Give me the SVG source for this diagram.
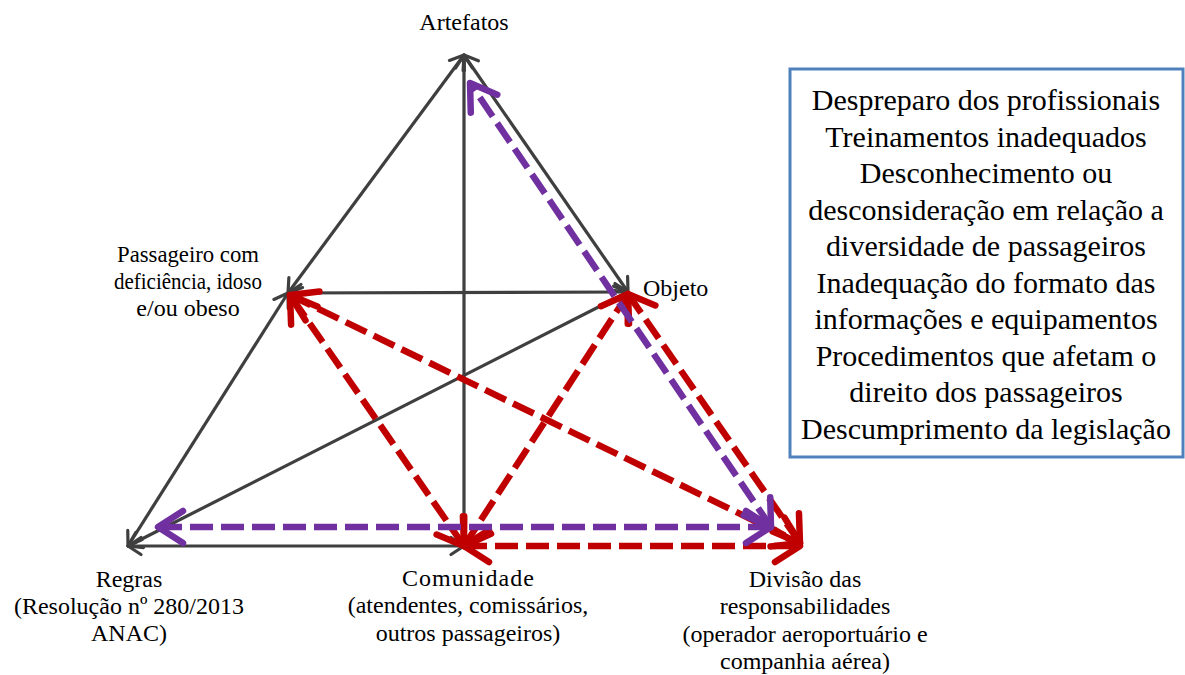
<svg xmlns="http://www.w3.org/2000/svg" width="1185" height="675" viewBox="0 0 1185 675">
  <style>
    .lbl { font-size: 24px; fill: #000; text-anchor: middle; }
    .box-text { font-size: 30px; fill: #000; text-anchor: middle; }
    .gray { stroke: #3F3F3F; stroke-width: 3.2; fill: none; marker-start: url(#gh); marker-end: url(#gh); }
    .red { stroke: #C00000; stroke-width: 6.5; fill: none; stroke-dasharray: 23 8; marker-start: url(#rh); marker-end: url(#rh); }
    .purple { stroke: #7030A0; stroke-width: 6.5; fill: none; stroke-dasharray: 23 8; marker-start: url(#ph); marker-end: url(#ph); }
  </style>
  <defs>
    <marker id="gh" viewBox="-18 -11 22 22" markerWidth="22" markerHeight="22" refX="0" refY="0" orient="auto-start-reverse" markerUnits="userSpaceOnUse">
      <path d="M-13,-8.5 L0,0 L-13,8.5" fill="none" stroke="#3F3F3F" stroke-width="3.2" stroke-linejoin="round" stroke-linecap="round"/>
    </marker>
    <marker id="rh" viewBox="-32 -22 38 44" markerWidth="38" markerHeight="44" refX="0" refY="0" orient="auto-start-reverse" markerUnits="userSpaceOnUse">
      <path d="M-25,-16 L0,0 L-25,16" fill="none" stroke="#C00000" stroke-width="6.5" stroke-linejoin="round" stroke-linecap="round"/>
    </marker>
    <marker id="ph" viewBox="-32 -22 38 44" markerWidth="38" markerHeight="44" refX="0" refY="0" orient="auto-start-reverse" markerUnits="userSpaceOnUse">
      <path d="M-25,-16 L0,0 L-25,16" fill="none" stroke="#7030A0" stroke-width="6.5" stroke-linejoin="round" stroke-linecap="round"/>
    </marker>
  </defs>

  <rect width="1185" height="675" fill="#fff"/>

  <!-- activity system connectors -->
  <g id="connectors">
    <!-- structural (gray) relations -->
    <line class="gray" x1="464" y1="55" x2="288" y2="293"/>
    <line class="gray" x1="464" y1="55" x2="628" y2="292"/>
    <line class="gray" x1="464" y1="55" x2="464" y2="546"/>
    <line class="gray" x1="288" y1="293" x2="628" y2="292"/>
    <line class="gray" x1="288" y1="293" x2="128" y2="546"/>
    <line class="gray" x1="128" y1="546" x2="628" y2="292"/>
    <line class="gray" x1="128" y1="546" x2="464" y2="546"/>

    <!-- tensions (red, dashed) -->
    <line class="red" x1="464" y1="546" x2="290" y2="295"/>
    <line class="red" x1="464" y1="546" x2="628" y2="294"/>
    <line class="red" x1="290" y1="295" x2="800" y2="543"/>
    <line class="red" x1="628" y1="294" x2="800" y2="543"/>
    <line class="red" x1="464" y1="546" x2="800" y2="546"/>

    <!-- tensions (purple, dashed) -->
    <line class="purple" x1="771" y1="527" x2="470" y2="83"/>
    <line class="purple" x1="771" y1="527" x2="158" y2="527"/>
  </g>

  <g font-family="Liberation Serif, Times New Roman, Times, serif">
    <g id="node-artefatos">
      <text class="lbl" x="464" y="30">Artefatos</text>
    </g>
    <g id="node-passageiro">
      <text class="lbl" x="188" y="262" textLength="142" lengthAdjust="spacingAndGlyphs">Passageiro com</text>
      <text class="lbl" x="188" y="289" textLength="148" lengthAdjust="spacingAndGlyphs">deficiência, idoso</text>
      <text class="lbl" x="188" y="316">e/ou obeso</text>
    </g>
    <g id="node-objeto">
      <text class="lbl" x="643" y="296" text-anchor="start" style="text-anchor:start">Objeto</text>
    </g>
    <g id="node-regras">
      <text class="lbl" x="129" y="587">Regras</text>
      <text class="lbl" x="129" y="614">(Resolução nº 280/2013</text>
      <text class="lbl" x="129" y="641">ANAC)</text>
    </g>
    <g id="node-comunidade">
      <text class="lbl" x="468" y="586" textLength="132" lengthAdjust="spacing">Comunidade</text>
      <text class="lbl" x="468" y="613">(atendentes, comissários,</text>
      <text class="lbl" x="468" y="641">outros passageiros)</text>
    </g>
    <g id="node-divisao">
      <text class="lbl" x="805" y="587">Divisão das</text>
      <text class="lbl" x="805" y="614">responsabilidades</text>
      <text class="lbl" x="805" y="642">(operador aeroportuário e</text>
      <text class="lbl" x="805" y="669">companhia aérea)</text>
    </g>

    <g id="node-contradicoes">
      <rect x="790" y="69" width="393" height="388" fill="#fff" stroke="#4F81BD" stroke-width="3"/>
      <text class="box-text" x="986" y="110">Despreparo dos profissionais</text>
      <text class="box-text" x="986" y="146.5">Treinamentos inadequados</text>
      <text class="box-text" x="986" y="183">Desconhecimento ou</text>
      <text class="box-text" x="986" y="219.5">desconsideração em relação a</text>
      <text class="box-text" x="986" y="256">diversidade de passageiros</text>
      <text class="box-text" x="986" y="292.5">Inadequação do formato das</text>
      <text class="box-text" x="986" y="329">informações e equipamentos</text>
      <text class="box-text" x="986" y="365.5">Procedimentos que afetam o</text>
      <text class="box-text" x="986" y="402">direito dos passageiros</text>
      <text class="box-text" x="986" y="438.5">Descumprimento da legislação</text>
    </g>
  </g>
</svg>
